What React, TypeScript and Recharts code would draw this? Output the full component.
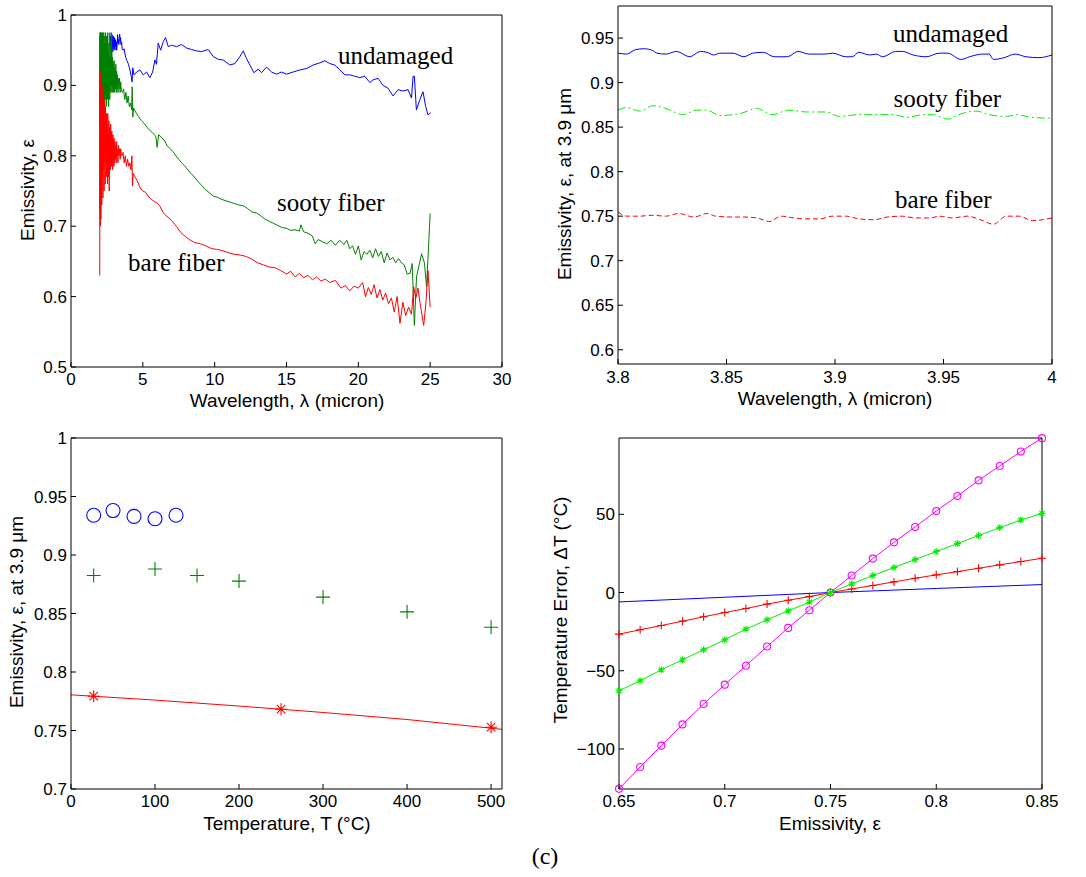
import { LineChart, Line, XAxis, YAxis, ReferenceDot } from "recharts";

type Pt = [number, number];

const SANS = '"Liberation Sans", Arial, Helvetica, sans-serif';
const SERIF = '"Liberation Serif", "Times New Roman", serif';

// (a) full spectra, wavelength (micron) vs emissivity
const undamagedSpectrum: Pt[] = [
  [2.7, 0.975], [2.72, 0.955], [2.74, 0.97], [2.76, 0.95], [2.78, 0.968], [2.8, 0.945],
  [2.82, 0.965], [2.84, 0.95], [2.86, 0.972], [2.88, 0.955], [2.9, 0.962], [2.92, 0.948],
  [2.94, 0.97], [2.96, 0.955], [2.98, 0.965], [3.0, 0.952], [3.03, 0.968], [3.06, 0.95],
  [3.09, 0.965], [3.12, 0.955], [3.15, 0.962], [3.18, 0.95], [3.21, 0.958], [3.24, 0.972],
  [3.27, 0.96], [3.3, 0.965], [3.33, 0.958], [3.36, 0.97], [3.39, 0.973], [3.42, 0.962],
  [3.45, 0.968], [3.48, 0.958], [3.52, 0.962], [3.56, 0.952], [3.62, 0.95], [3.7, 0.952],
  [3.8, 0.94], [3.9, 0.935], [4.0, 0.93],
  [4.1, 0.922], [4.2, 0.912], [4.25, 0.905], [4.3, 0.925], [4.38, 0.915], [4.57, 0.919],
  [4.8, 0.922], [5.03, 0.915], [5.26, 0.919], [5.49, 0.911], [5.68, 0.919], [5.84, 0.936],
  [5.95, 0.93], [6.07, 0.96], [6.24, 0.95], [6.42, 0.962], [6.58, 0.968], [6.77, 0.955],
  [7.0, 0.957], [7.35, 0.955], [7.7, 0.958], [8.05, 0.953], [8.39, 0.951], [8.74, 0.949],
  [9.09, 0.948], [9.55, 0.951], [9.9, 0.941], [10.25, 0.937], [10.6, 0.936], [11.06, 0.929],
  [11.41, 0.931], [11.76, 0.941], [11.99, 0.949], [12.22, 0.938], [12.45, 0.929], [12.73, 0.918],
  [13.03, 0.923], [13.26, 0.918], [13.61, 0.926], [13.96, 0.919], [14.31, 0.916], [14.65, 0.919],
  [15.0, 0.916], [15.46, 0.919], [15.93, 0.922], [16.39, 0.924], [16.86, 0.929], [17.32, 0.932],
  [17.67, 0.935], [18.01, 0.931], [18.36, 0.929], [18.71, 0.922], [19.06, 0.915], [19.41, 0.915],
  [19.75, 0.913], [20.1, 0.911], [20.45, 0.913], [20.8, 0.904], [21.03, 0.908], [21.38, 0.91],
  [21.72, 0.9], [22.07, 0.896], [22.42, 0.885], [22.77, 0.894], [23.12, 0.892], [23.46, 0.894],
  [23.7, 0.882], [23.81, 0.913], [23.9, 0.913], [24.04, 0.865], [24.27, 0.879], [24.5, 0.891],
  [24.69, 0.87], [24.85, 0.858], [25.02, 0.861],
];

const sootySpectrum: Pt[] = [
  [2.0, 0.97], [2.01, 0.84], [2.02, 0.975], [2.03, 0.86], [2.04, 0.97], [2.05, 0.85],
  [2.06, 0.975], [2.07, 0.87], [2.08, 0.965], [2.1, 0.86], [2.12, 0.975], [2.14, 0.88],
  [2.16, 0.96], [2.18, 0.87], [2.2, 0.975], [2.22, 0.89], [2.24, 0.97], [2.26, 0.86],
  [2.28, 0.975], [2.3, 0.88], [2.32, 0.96], [2.34, 0.87], [2.36, 0.97], [2.38, 0.89],
  [2.4, 0.975], [2.42, 0.88], [2.44, 0.95], [2.46, 0.87], [2.48, 0.97], [2.5, 0.89],
  [2.52, 0.96], [2.54, 0.88], [2.56, 0.975], [2.58, 0.9], [2.6, 0.95], [2.62, 0.87],
  [2.64, 0.96], [2.66, 0.89], [2.68, 0.94], [2.7, 0.88], [2.72, 0.965], [2.74, 0.9],
  [2.76, 0.94], [2.78, 0.89], [2.8, 0.975], [2.82, 0.9], [2.84, 0.95], [2.86, 0.89],
  [2.88, 0.94], [2.9, 0.9], [2.92, 0.935], [2.94, 0.89], [2.96, 0.93], [2.98, 0.895],
  [3.0, 0.935], [3.03, 0.89], [3.06, 0.925], [3.09, 0.895], [3.12, 0.93], [3.15, 0.89],
  [3.18, 0.92], [3.21, 0.895], [3.24, 0.915], [3.27, 0.89], [3.3, 0.91], [3.34, 0.895],
  [3.38, 0.91], [3.42, 0.89], [3.46, 0.905], [3.5, 0.893],
  [3.58, 0.89], [3.66, 0.895], [3.74, 0.88], [3.82, 0.89], [3.9, 0.875],
  [3.98, 0.885], [4.06, 0.87], [4.14, 0.875], [4.22, 0.865], [4.26, 0.898], [4.3, 0.855],
  [4.36, 0.868], [4.5, 0.862], [4.7, 0.856], [4.9, 0.85], [5.1, 0.846], [5.3, 0.84],
  [5.5, 0.836], [5.7, 0.832], [5.9, 0.828], [6.0, 0.812], [6.1, 0.83], [6.3, 0.826],
  [6.5, 0.822], [6.7, 0.814], [6.9, 0.81], [7.1, 0.806], [7.3, 0.8], [7.5, 0.795],
  [7.7, 0.79], [7.9, 0.786], [8.1, 0.781], [8.3, 0.776], [8.5, 0.772], [8.7, 0.767],
  [8.9, 0.762], [9.1, 0.758], [9.3, 0.753], [9.6, 0.748], [9.9, 0.743], [10.2, 0.741],
  [10.5, 0.738], [10.8, 0.736], [11.1, 0.734], [11.4, 0.732], [11.7, 0.73], [12.0, 0.729],
  [12.3, 0.725], [12.6, 0.72], [12.9, 0.719], [13.2, 0.715], [13.5, 0.71], [13.8, 0.707],
  [14.1, 0.704], [14.4, 0.701], [14.7, 0.698], [15.0, 0.697], [15.3, 0.694], [15.6, 0.695],
  [15.9, 0.693], [16.0, 0.702], [16.2, 0.692], [16.5, 0.69], [16.8, 0.686], [17.0, 0.675],
  [17.2, 0.681], [17.5, 0.678], [17.8, 0.675], [18.1, 0.68], [18.4, 0.673], [18.7, 0.68],
  [19.0, 0.674], [19.2, 0.68], [19.4, 0.668], [19.6, 0.672], [19.8, 0.66], [20.0, 0.672],
  [20.2, 0.652], [20.4, 0.664], [20.6, 0.66], [20.8, 0.666], [21.0, 0.655], [21.2, 0.668],
  [21.4, 0.657], [21.6, 0.664], [21.8, 0.648], [22.0, 0.662], [22.2, 0.652], [22.4, 0.656],
  [22.6, 0.648], [22.8, 0.654], [23.0, 0.648], [23.2, 0.645], [23.4, 0.632], [23.6, 0.633],
  [23.75, 0.647], [23.9, 0.559], [24.05, 0.628], [24.4, 0.661], [24.6, 0.648], [24.75, 0.614],
  [25.0, 0.718],
];

const bareSpectrum: Pt[] = [
  [2.0, 0.63], [2.01, 0.9], [2.02, 0.72], [2.03, 0.92], [2.04, 0.7], [2.05, 0.91],
  [2.06, 0.74], [2.07, 0.89], [2.08, 0.71], [2.09, 0.9], [2.1, 0.76], [2.12, 0.88],
  [2.14, 0.73], [2.16, 0.9], [2.18, 0.77], [2.2, 0.87], [2.22, 0.74], [2.24, 0.89],
  [2.26, 0.78], [2.28, 0.86], [2.3, 0.75], [2.32, 0.88], [2.34, 0.79], [2.36, 0.85],
  [2.38, 0.76], [2.4, 0.87], [2.42, 0.8], [2.44, 0.85], [2.46, 0.77], [2.48, 0.86],
  [2.5, 0.79], [2.52, 0.84], [2.54, 0.76], [2.56, 0.86], [2.58, 0.8], [2.6, 0.83],
  [2.62, 0.77], [2.64, 0.85], [2.66, 0.75], [2.68, 0.84], [2.7, 0.79], [2.72, 0.83],
  [2.74, 0.78], [2.76, 0.845], [2.78, 0.8], [2.8, 0.83], [2.82, 0.785], [2.84, 0.835],
  [2.86, 0.79], [2.88, 0.825], [2.9, 0.78], [2.92, 0.83], [2.94, 0.795], [2.96, 0.82],
  [2.98, 0.785], [3.0, 0.825], [3.03, 0.79], [3.06, 0.82], [3.09, 0.795], [3.12, 0.815],
  [3.15, 0.79], [3.18, 0.82], [3.21, 0.8], [3.24, 0.81], [3.27, 0.79], [3.3, 0.815],
  [3.34, 0.8], [3.38, 0.81], [3.42, 0.795], [3.46, 0.81], [3.5, 0.8],
  [3.55, 0.8], [3.62, 0.805],
  [3.7, 0.79], [3.78, 0.8], [3.86, 0.785], [3.94, 0.795], [4.02, 0.785], [4.1, 0.79],
  [4.18, 0.78], [4.24, 0.8], [4.28, 0.757], [4.33, 0.775], [4.45, 0.77], [4.6, 0.765],
  [4.8, 0.755], [5.0, 0.75], [5.2, 0.748], [5.4, 0.742], [5.6, 0.738], [5.8, 0.735],
  [6.0, 0.733], [6.2, 0.728], [6.4, 0.72], [6.6, 0.715], [6.8, 0.712], [7.0, 0.708],
  [7.2, 0.703], [7.4, 0.698], [7.6, 0.692], [7.8, 0.688], [8.0, 0.685], [8.3, 0.68],
  [8.6, 0.677], [9.0, 0.675], [9.4, 0.672], [9.8, 0.668], [10.2, 0.667], [10.6, 0.665],
  [11.0, 0.662], [11.4, 0.66], [11.8, 0.659], [12.2, 0.657], [12.6, 0.653], [13.0, 0.648],
  [13.4, 0.645], [13.8, 0.642], [14.2, 0.641], [14.6, 0.637], [15.0, 0.632], [15.3, 0.636],
  [15.6, 0.628], [15.9, 0.633], [16.2, 0.627], [16.5, 0.63], [16.8, 0.624], [17.1, 0.628],
  [17.4, 0.622], [17.7, 0.625], [18.0, 0.62], [18.4, 0.623], [18.8, 0.612], [19.1, 0.616],
  [19.4, 0.608], [19.7, 0.615], [20.0, 0.612], [20.3, 0.62], [20.5, 0.6], [20.7, 0.613],
  [20.9, 0.603], [21.1, 0.617], [21.3, 0.598], [21.5, 0.61], [21.7, 0.595], [21.9, 0.605],
  [22.1, 0.59], [22.3, 0.598], [22.5, 0.578], [22.7, 0.6], [22.9, 0.562], [23.1, 0.592],
  [23.3, 0.573], [23.5, 0.585], [23.7, 0.575], [23.85, 0.614], [24.0, 0.598], [24.15, 0.612],
  [24.3, 0.59], [24.55, 0.559], [24.7, 0.59], [24.85, 0.637], [25.0, 0.585],
];

// (b) zoom near 3.9 micron
const undamagedNear39: Pt[] = [
  [3.8, 0.933], [3.804, 0.932], [3.808, 0.937], [3.812, 0.938], [3.816, 0.936], [3.818, 0.933],
  [3.822, 0.932], [3.827, 0.935], [3.833, 0.929], [3.838, 0.935], [3.841, 0.934], [3.844, 0.931],
  [3.847, 0.933], [3.853, 0.933], [3.858, 0.929], [3.862, 0.933], [3.867, 0.934], [3.872, 0.929],
  [3.878, 0.929], [3.883, 0.935], [3.888, 0.932], [3.895, 0.932], [3.899, 0.933], [3.905, 0.929],
  [3.908, 0.929], [3.911, 0.934], [3.916, 0.931], [3.919, 0.932], [3.922, 0.929], [3.928, 0.935],
  [3.931, 0.935], [3.936, 0.931], [3.942, 0.929], [3.948, 0.933], [3.952, 0.933], [3.958, 0.926],
  [3.962, 0.929], [3.968, 0.932], [3.971, 0.932], [3.973, 0.926], [3.978, 0.928], [3.983, 0.932],
  [3.988, 0.929], [3.994, 0.928], [4.0, 0.931],
];

const sootyNear39: Pt[] = [
  [3.8, 0.869], [3.804, 0.872], [3.81, 0.868], [3.816, 0.874], [3.822, 0.871], [3.83, 0.864],
  [3.836, 0.869], [3.841, 0.869], [3.847, 0.863], [3.856, 0.865], [3.864, 0.871], [3.871, 0.864],
  [3.879, 0.869], [3.887, 0.867], [3.896, 0.867], [3.902, 0.862], [3.911, 0.864], [3.921, 0.864],
  [3.927, 0.864], [3.933, 0.861], [3.941, 0.864], [3.945, 0.864], [3.952, 0.859], [3.957, 0.864],
  [3.965, 0.868], [3.971, 0.864], [3.979, 0.862], [3.984, 0.864], [3.99, 0.861], [4.0, 0.86],
];

const bareNear39: Pt[] = [
  [3.8, 0.755], [3.804, 0.75], [3.81, 0.75], [3.816, 0.751], [3.822, 0.75], [3.828, 0.753],
  [3.835, 0.749], [3.841, 0.753], [3.845, 0.75], [3.853, 0.749], [3.859, 0.749], [3.864, 0.748],
  [3.87, 0.744], [3.875, 0.75], [3.881, 0.748], [3.887, 0.747], [3.893, 0.747], [3.899, 0.75],
  [3.905, 0.75], [3.911, 0.747], [3.918, 0.746], [3.924, 0.749], [3.931, 0.75], [3.937, 0.748],
  [3.944, 0.748], [3.948, 0.75], [3.954, 0.748], [3.961, 0.75], [3.967, 0.746], [3.973, 0.741],
  [3.979, 0.75], [3.985, 0.75], [3.991, 0.745], [4.0, 0.748],
];

// (c) emissivity at 3.9 micron vs temperature (deg C)
const tempUndamaged: Pt[] = [[27, 0.934], [50, 0.938], [75, 0.933], [100, 0.931], [125, 0.934]];
const tempSooty: Pt[] = [
  [27, 0.8825], [100, 0.888], [150, 0.8825], [200, 0.8777], [300, 0.864], [400, 0.8514], [500, 0.8383],
];
const tempBare: Pt[] = [[27, 0.7793], [250, 0.7682], [500, 0.7528]];
const tempBareFit: Pt[] = [[0, 0.7805], [100, 0.776], [200, 0.7709], [300, 0.7654], [400, 0.7594], [513, 0.751]];

// (d) temperature error vs assumed emissivity
const errEmissivity = [
  0.65, 0.66, 0.67, 0.68, 0.69, 0.7, 0.71, 0.72, 0.73, 0.74, 0.75,
  0.76, 0.77, 0.78, 0.79, 0.8, 0.81, 0.82, 0.83, 0.84, 0.85,
];
const errMagenta = [
  -125.5, -111.5, -97.9, -84.3, -71.3, -58.9, -46.8, -34.5, -22.6, -11.3, 0,
  10.9, 21.7, 32.1, 41.9, 52.1, 61.7, 71.7, 80.9, 90.2, 98.7,
];
const errGreen = [
  -62.8, -56.4, -49.4, -43.0, -36.6, -30.2, -23.4, -17.4, -11.7, -6.2, 0,
  5.5, 10.9, 16.0, 21.1, 26.2, 31.3, 36.4, 41.5, 46.4, 50.6,
];
const errRed = [
  -26.6, -23.8, -21.1, -18.3, -15.5, -12.8, -10.2, -7.4, -4.9, -2.6, 0,
  2.3, 4.5, 6.8, 9.1, 11.3, 13.4, 15.5, 17.7, 19.8, 21.9,
];
const errBlue: Pt[] = [[0.65, -6.0], [0.7, -3.0], [0.75, 0], [0.8, 2.6], [0.85, 5.1]];

const toXY = (pts: Pt[]) => pts.map(([x, y]) => ({ x, y }));
const zipXY = (xs: number[], ys: number[]) => xs.map((x, i) => ({ x, y: ys[i] }));

const fmt = (v: number) => (v < 0 ? `\u2212${-v}` : String(v));

const ringDot = (r: number, color: string) => (p: any) =>
  p.cx == null ? <g key={p.index} /> : (
    <circle key={p.index} cx={p.cx} cy={p.cy} r={r} fill="none" stroke={color} strokeWidth={1.1} />
  );

const plusDot = (h: number, color: string) => (p: any) =>
  p.cx == null ? <g key={p.index} /> : (
    <path
      key={p.index}
      d={`M${p.cx - h},${p.cy}H${p.cx + h}M${p.cx},${p.cy - h}V${p.cy + h}`}
      stroke={color}
      strokeWidth={1.1}
      fill="none"
    />
  );

const starDot = (h: number, color: string) => (p: any) => {
  if (p.cx == null) return <g key={p.index} />;
  const d = h * 0.7071;
  const { cx, cy } = p;
  return (
    <path
      key={p.index}
      d={`M${cx - h},${cy}H${cx + h}M${cx},${cy - h}V${cy + h}M${cx - d},${cy - d}L${cx + d},${cy + d}M${cx - d},${cy + d}L${cx + d},${cy - d}`}
      stroke={color}
      strokeWidth={1.1}
      fill="none"
    />
  );
};

const titleX = (x: number, y: number, text: string) => ({
  content: () => (
    <text x={x} y={y} textAnchor="middle" dominantBaseline="central" fontFamily={SANS} fontSize={19} fill="#000">
      {text}
    </text>
  ),
});

const titleY = (x: number, y: number, text: string) => ({
  content: () => (
    <text
      x={x}
      y={y}
      transform={`rotate(-90 ${x} ${y})`}
      textAnchor="middle"
      dominantBaseline="central"
      fontFamily={SANS}
      fontSize={19}
      fill="#000"
    >
      {text}
    </text>
  ),
});

interface FrameProps {
  xDomain: [number, number];
  yDomain: [number, number];
  xTicks: number[];
  yTicks: number[];
  xTitle: any;
  yTitle: any;
  xTickMargin?: number;
}

// box with inward ticks on all four sides, like the MATLAB original
function frame(p: FrameProps) {
  const tick = { fill: "#000", fontSize: 17, fontFamily: SANS };
  const line = { stroke: "#000", strokeWidth: 1 };
  return [
    <XAxis
      key="xb"
      type="number"
      dataKey="x"
      domain={p.xDomain}
      ticks={p.xTicks}
      interval={0}
      tick={tick}
      tickFormatter={fmt}
      tickSize={-5}
      tickMargin={p.xTickMargin ?? 11}
      axisLine={line}
      tickLine={line}
      height={30}
      label={p.xTitle}
    />,
    <XAxis
      key="xt"
      xAxisId="top"
      orientation="top"
      type="number"
      domain={p.xDomain}
      ticks={p.xTicks}
      interval={0}
      tick={false}
      tickSize={-5}
      axisLine={line}
      tickLine={line}
      height={1}
    />,
    <YAxis
      key="yl"
      type="number"
      domain={p.yDomain}
      ticks={p.yTicks}
      interval={0}
      tick={tick}
      tickFormatter={fmt}
      tickSize={-5}
      tickMargin={9}
      axisLine={line}
      tickLine={line}
      width={60}
      label={p.yTitle}
    />,
    <YAxis
      key="yr"
      yAxisId="right"
      orientation="right"
      type="number"
      domain={p.yDomain}
      ticks={p.yTicks}
      interval={0}
      tick={false}
      tickSize={-5}
      axisLine={line}
      tickLine={line}
      width={1}
    />,
  ];
}

const note = (x: number, y: number, text: string) => (
  <ReferenceDot
    key={text}
    x={x}
    y={y}
    r={0}
    fill="none"
    stroke="none"
    label={{ value: text, position: "right", offset: 0, fontFamily: SERIF, fontSize: 25, fill: "#000" }}
  />
);

const box = (left: number, top: number): React.CSSProperties => ({ position: "absolute", left, top });

export default function App() {
  return (
    <div style={{ position: "absolute", left: 0, top: 0, width: 1086, height: 877, background: "#fff" }}>
      <div style={box(0, 0)}>
        <LineChart width={545} height={420} margin={{ top: 14, right: 42, bottom: 23, left: 11 }}>
          {frame({
            xDomain: [0, 30],
            yDomain: [0.5, 1],
            xTicks: [0, 5, 10, 15, 20, 25, 30],
            yTicks: [0.5, 0.6, 0.7, 0.8, 0.9, 1],
            xTitle: titleX(287, 400, "Wavelength, λ (micron)"),
            yTitle: titleY(27, 190, "Emissivity, ε"),
          })}
          <Line data={toXY(undamagedSpectrum)} dataKey="y" stroke="#0000ff" strokeWidth={1} dot={false} activeDot={false} isAnimationActive={false} />
          <Line data={toXY(sootySpectrum)} dataKey="y" stroke="#008000" strokeWidth={1} dot={false} activeDot={false} isAnimationActive={false} />
          <Line data={toXY(bareSpectrum)} dataKey="y" stroke="#ff0000" strokeWidth={1} dot={false} activeDot={false} isAnimationActive={false} />
          {note(18.58, 0.943, "undamaged")}
          {note(14.34, 0.734, "sooty fiber")}
          {note(3.97, 0.649, "bare fiber")}
        </LineChart>
      </div>

      <div style={box(540, 0)}>
        <LineChart width={546} height={420} margin={{ top: 5, right: 33, bottom: 26, left: 18 }}>
          {frame({
            xDomain: [3.8, 4],
            yDomain: [0.584, 0.986],
            xTicks: [3.8, 3.85, 3.9, 3.95, 4],
            yTicks: [0.6, 0.65, 0.7, 0.75, 0.8, 0.85, 0.9, 0.95],
            xTitle: titleX(295, 398, "Wavelength, λ (micron)"),
            yTitle: titleY(24, 184, "Emissivity, ε, at 3.9 μm"),
            xTickMargin: 12,
          })}
          <Line data={toXY(undamagedNear39)} dataKey="y" type="monotone" stroke="#0000ff" strokeWidth={1} dot={false} activeDot={false} isAnimationActive={false} />
          <Line data={toXY(sootyNear39)} dataKey="y" type="monotone" stroke="#00ee00" strokeWidth={1} strokeDasharray="8 3 2 3" dot={false} activeDot={false} isAnimationActive={false} />
          <Line data={toXY(bareNear39)} dataKey="y" type="monotone" stroke="#ff0000" strokeWidth={1} strokeDasharray="5 3" dot={false} activeDot={false} isAnimationActive={false} />
          {note(3.9267, 0.9556, "undamaged")}
          {note(3.927, 0.8826, "sooty fiber")}
          {note(3.9277, 0.7694, "bare fiber")}
        </LineChart>
      </div>

      <div style={box(0, 425)}>
        <LineChart width={545} height={452} margin={{ top: 12, right: 42, bottom: 58, left: 11 }}>
          {frame({
            xDomain: [0, 513],
            yDomain: [0.7, 1],
            xTicks: [0, 100, 200, 300, 400, 500],
            yTicks: [0.7, 0.75, 0.8, 0.85, 0.9, 0.95, 1],
            xTitle: titleX(287, 398, "Temperature, T (°C)"),
            yTitle: titleY(16, 187, "Emissivity, ε, at 3.9 μm"),
          })}
          <Line data={toXY(tempBareFit)} dataKey="y" stroke="#ff0000" strokeWidth={1} dot={false} activeDot={false} isAnimationActive={false} />
          <Line data={toXY(tempBare)} dataKey="y" stroke="none" dot={starDot(6, "#ff0000")} activeDot={false} isAnimationActive={false} />
          <Line data={toXY(tempSooty)} dataKey="y" stroke="none" dot={plusDot(7, "#008000")} activeDot={false} isAnimationActive={false} />
          <Line data={toXY(tempUndamaged)} dataKey="y" stroke="none" dot={ringDot(7, "#0000ff")} activeDot={false} isAnimationActive={false} />
        </LineChart>
      </div>

      <div style={box(540, 425)}>
        <LineChart width={546} height={452} margin={{ top: 12, right: 43, bottom: 58, left: 19 }}>
          {frame({
            xDomain: [0.65, 0.85],
            yDomain: [-125.6, 98.8],
            xTicks: [0.65, 0.7, 0.75, 0.8, 0.85],
            yTicks: [-100, -50, 0, 50],
            xTitle: titleX(290, 398, "Emissivity, ε"),
            yTitle: titleY(20, 185, "Temperature Error, ΔT (°C)"),
          })}
          <Line data={toXY(errBlue)} dataKey="y" stroke="#0000ff" strokeWidth={1} dot={false} activeDot={false} isAnimationActive={false} />
          <Line data={zipXY(errEmissivity, errRed)} dataKey="y" stroke="#ff0000" strokeWidth={1} dot={plusDot(4, "#ff0000")} activeDot={false} isAnimationActive={false} />
          <Line data={zipXY(errEmissivity, errGreen)} dataKey="y" stroke="#00ee00" strokeWidth={1} dot={starDot(3.5, "#00ee00")} activeDot={false} isAnimationActive={false} />
          <Line data={zipXY(errEmissivity, errMagenta)} dataKey="y" stroke="#ff00ff" strokeWidth={1} dot={ringDot(3.5, "#ff00ff")} activeDot={false} isAnimationActive={false} />
        </LineChart>
      </div>

      <div
        style={{
          position: "absolute",
          left: 545,
          top: 843,
          transform: "translateX(-50%)",
          fontFamily: SERIF,
          fontSize: 24,
          lineHeight: "26px",
          color: "#000",
        }}
      >
        (c)
      </div>
    </div>
  );
}
